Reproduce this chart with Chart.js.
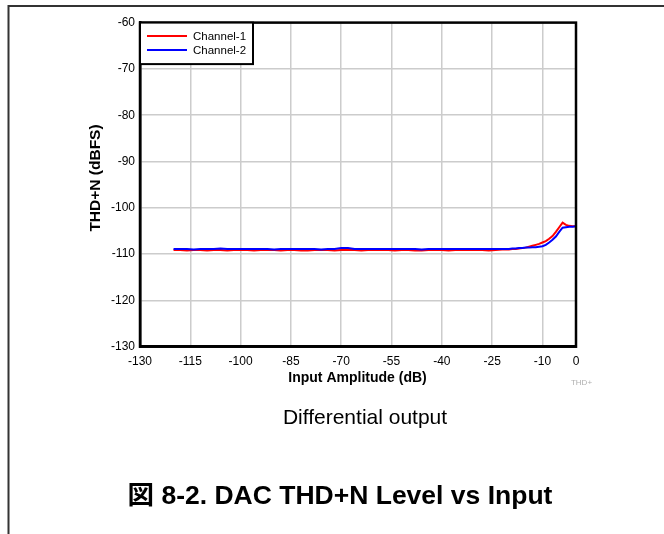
<!DOCTYPE html>
<html>
<head>
<meta charset="utf-8">
<script src="https://cdn.jsdelivr.net/npm/chart.js@4/dist/chart.umd.min.js"></script>
<style>
html,body{margin:0;padding:0;background:#fff;}
canvas{display:block;}
</style>
</head>
<body>
<canvas id="c" width="664" height="534"></canvas>
<script>
// ---- data ----
const inputAmplitude = [
  -120,-118,-116,-114,-112,-110,-108,-106,-104,-102,
  -100,-98,-96,-94,-92,-90,-88,-86,-84,-82,
  -80,-78,-76,-74,-72,-70,-68,-66,-64,-62,
  -60,-58,-56,-54,-52,-50,-48,-46,-44,-42,
  -40,-38,-36,-34,-32,-30,-28,-26,-24,-22,
  -20,-19,-18,-17,-16,-15,-14,-13,-12,-11,
  -10,-9,-8,-7,-6,-5,-4,-3,-2,-1,0
];
const channel1 = [
  -109.1,-109.1,-109.2,-109.1,-109.1,-109.2,-109.1,-109.1,-109.2,-109.1,
  -109.1,-109.1,-109.2,-109.1,-109.1,-109.1,-109.2,-109.1,-109.1,-109.2,
  -109.2,-109.1,-109.1,-109.1,-109.2,-109.1,-109.1,-109.1,-109.2,-109.1,
  -109.1,-109.1,-109.1,-109.2,-109.1,-109.1,-109.2,-109.2,-109.1,-109.1,
  -109.1,-109.2,-109.1,-109.1,-109.1,-109.1,-109.1,-109.2,-109.1,-109.0,
  -109.0,-108.9,-108.9,-108.8,-108.7,-108.6,-108.4,-108.2,-108.0,-107.8,
  -107.5,-107.2,-106.7,-106.1,-105.2,-104.2,-103.2,-103.7,-103.9,-104.0,-104.0
];
const channel2 = [
  -108.9,-108.9,-108.9,-109.0,-108.9,-108.9,-108.9,-108.8,-108.9,-108.9,
  -108.9,-108.9,-108.9,-108.9,-108.9,-109.0,-108.9,-108.9,-108.9,-108.9,
  -108.9,-108.9,-109.0,-108.9,-108.9,-108.7,-108.7,-108.9,-108.9,-108.9,
  -108.9,-108.9,-108.9,-108.9,-108.9,-108.9,-108.9,-109.0,-108.9,-108.9,
  -108.9,-108.9,-108.9,-108.9,-108.9,-108.9,-108.9,-108.9,-108.9,-108.9,
  -108.9,-108.8,-108.8,-108.7,-108.7,-108.6,-108.6,-108.5,-108.5,-108.4,
  -108.3,-108.0,-107.5,-106.9,-106.2,-105.2,-104.3,-104.2,-104.1,-104.1,-104.0
];
const seriesNames = ['Channel-1', 'Channel-2'];
const xTickValues = [-130,-115,-100,-85,-70,-55,-40,-25,-10,0];
const yTickValues = [-60,-70,-80,-90,-100,-110,-120,-130];
const xAxisTitle = 'Input Amplitude (dB)';
const yAxisTitle = 'THD+N (dBFS)';
const watermark = 'THD+';
const subtitle = 'Differential output';
const caption = '図 8-2. DAC THD+N Level vs Input';

const FONT = '"Liberation Sans", Arial, sans-serif';

const toPoints = ys => ys.map((y, i) => ({x: inputAmplitude[i], y}));

const decor = {
  id: 'decor',
  beforeDraw(chart) {
    const ctx = chart.ctx;
    ctx.save();
    ctx.fillStyle = '#fff';
    ctx.fillRect(0, 0, chart.width, chart.height);
    // page frame
    ctx.strokeStyle = '#333';
    ctx.lineWidth = 2;
    ctx.beginPath();
    ctx.moveTo(664, 6);
    ctx.lineTo(8.5, 6);
    ctx.lineTo(8.5, 534);
    ctx.stroke();
    ctx.restore();
  },
  afterDraw(chart) {
    const ctx = chart.ctx;
    const a = chart.chartArea;
    ctx.save();
    // plot border
    ctx.strokeStyle = '#000';
    ctx.lineWidth = 2.5;
    ctx.strokeRect(a.left, a.top, a.right - a.left, a.bottom - a.top);

    // legend
    const lx = a.left, ly = a.top, lw = 113, lh = 41.5;
    ctx.fillStyle = '#fff';
    ctx.fillRect(lx, ly, lw, lh);
    ctx.lineWidth = 2;
    ctx.strokeStyle = '#000';
    ctx.strokeRect(lx, ly, lw, lh);
    ctx.font = '11.5px ' + FONT;
    ctx.textBaseline = 'middle';
    ctx.textAlign = 'left';
    chart.data.datasets.forEach((ds, i) => {
      const yy = ly + 13.5 + i * 14;
      ctx.strokeStyle = ds.borderColor;
      ctx.lineWidth = 2;
      ctx.beginPath();
      ctx.moveTo(lx + 7, yy);
      ctx.lineTo(lx + 47, yy);
      ctx.stroke();
      ctx.fillStyle = '#000';
      ctx.fillText(ds.label, lx + 53, yy + 0.5);
    });

    // y title
    ctx.save();
    ctx.translate(95.5, 178);
    ctx.rotate(-Math.PI / 2);
    ctx.font = 'bold 15.5px ' + FONT;
    ctx.textAlign = 'center';
    ctx.textBaseline = 'middle';
    ctx.fillStyle = '#000';
    ctx.fillText(yAxisTitle, 0, 0);
    ctx.restore();

    // x title
    ctx.font = 'bold 14px ' + FONT;
    ctx.textAlign = 'center';
    ctx.textBaseline = 'middle';
    ctx.fillStyle = '#000';
    ctx.fillText(xAxisTitle, 357.5, 378.5);

    // small watermark
    ctx.font = '8px ' + FONT;
    ctx.fillStyle = '#b0b0b0';
    ctx.fillText(watermark, 581.5, 382.5);

    // subtitle
    ctx.font = '21px ' + FONT;
    ctx.fillStyle = '#000';
    ctx.fillText(subtitle, 365, 418.5);

    // caption
    ctx.font = 'bold 26.5px ' + FONT + ', "Noto Sans CJK JP"';
    ctx.fillText(caption, 340, 497);
    ctx.restore();
  }
};

new Chart(document.getElementById('c'), {
  type: 'line',
  data: {
    datasets: [
      {label: seriesNames[0], data: toPoints(channel1), borderColor: '#ff0000', backgroundColor: '#ff0000', borderWidth: 2, pointRadius: 0, tension: 0, order: 1},
      {label: seriesNames[1], data: toPoints(channel2), borderColor: '#0000ff', backgroundColor: '#0000ff', borderWidth: 2, pointRadius: 0, tension: 0, order: 0}
    ]
  },
  options: {
    responsive: false,
    devicePixelRatio: 1,
    animation: false,
    events: [],
    layout: {padding: {left: 0, top: 22.6, right: 88, bottom: 157.3}},
    plugins: {legend: {display: false}, tooltip: {enabled: false}},
    scales: {
      x: {
        type: 'linear',
        min: -130, max: 0,
        afterBuildTicks: axis => { axis.ticks = xTickValues.map(v => ({value: v})); },
        afterFit: axis => { axis.height = 30; },
        grid: {color: '#cccccc', lineWidth: 1.5, drawTicks: false},
        border: {display: true, color: '#000', width: 2.5},
        ticks: {
          padding: 8, maxRotation: 0, autoSkip: false,
          color: '#000', font: {family: FONT, size: 12},
          callback: v => String(v)
        }
      },
      y: {
        type: 'linear',
        min: -130, max: -60,
        afterBuildTicks: axis => { axis.ticks = yTickValues.map(v => ({value: v})); },
        afterFit: axis => { axis.width = 140; },
        grid: {color: '#cccccc', lineWidth: 1.5, drawTicks: false},
        border: {display: true, color: '#000', width: 2.5},
        ticks: {
          padding: 5, autoSkip: false,
          color: '#000', font: {family: FONT, size: 12},
          callback: v => String(v)
        }
      }
    }
  },
  plugins: [decor]
});
</script>
</body>
</html>
